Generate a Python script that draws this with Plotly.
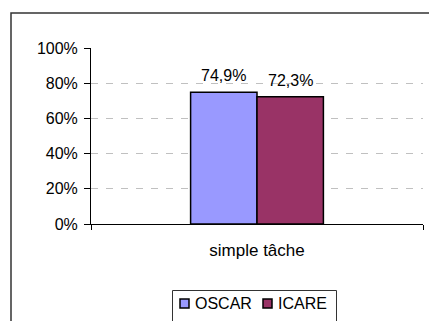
import plotly.graph_objects as go

# Data
categories = ["simple tâche"]
series_names = ["OSCAR", "ICARE"]
oscar_values = [0.749]
icare_values = [0.723]
series_colors = ["#9999FF", "#993366"]

W, H = 429, 321
ML, MR, MT, MB = 91, 6, 48, 97
PW, PH = W - ML - MR, H - MT - MB
BAR_GAP = 0.6

FONT = "Liberation Sans, Arial, sans-serif"


def px_x(x):
    return (x - ML) / PW


def px_y(y):
    return (H - MB - y) / PH


def fmt_pct(v):
    return f"{v * 100:.1f}%".replace(".", ",")


fig = go.Figure()
all_values = [oscar_values, icare_values]
n_series = len(series_names)
bar_px = PW / len(categories) * (1 - BAR_GAP) / n_series
annotations = []
for i, (name, vals, col) in enumerate(zip(series_names, all_values, series_colors)):
    fig.add_trace(go.Bar(
        x=categories, y=vals, name=name,
        marker=dict(color=col, line=dict(color="#000000", width=1.5)),
        showlegend=False,
    ))
    # value labels above each bar
    offset = (i - (n_series - 1) / 2) * bar_px
    for cat, v in zip(categories, vals):
        annotations.append(dict(
            x=cat, y=v, xref="x", yref="y", text=fmt_pct(v), showarrow=False,
            xanchor="center", yanchor="bottom", xshift=offset, yshift=6,
            font=dict(family=FONT, size=16, color="#000000"),
        ))

shapes = [
    # outer chart border (right and bottom edges fall outside the view)
    dict(type="rect", xref="paper", yref="paper",
         x0=px_x(11), x1=px_x(440), y0=px_y(13), y1=px_y(340),
         line=dict(color="#333333", width=1.5), layer="below"),
    # legend box
    dict(type="rect", xref="paper", yref="paper",
         x0=px_x(172.5), x1=px_x(336.5), y0=px_y(290.5), y1=px_y(340),
         line=dict(color="#333333", width=1), fillcolor="white"),
]
legend_items = [(180, 193), (263, 276)]
for (sx, tx), name, col in zip(legend_items, series_names, series_colors):
    shapes.append(dict(type="rect", xref="paper", yref="paper",
                       x0=px_x(sx), x1=px_x(sx + 9), y0=px_y(299), y1=px_y(308),
                       line=dict(color="#000000", width=1.5), fillcolor=col))
    annotations.append(dict(xref="paper", yref="paper", x=px_x(tx), y=px_y(303.5),
                            text=name, showarrow=False, xanchor="left", yanchor="middle",
                            font=dict(family=FONT, size=16, color="#000000")))

fig.update_layout(
    width=W, height=H,
    margin=dict(l=ML, r=MR, t=MT, b=MB, pad=0),
    paper_bgcolor="white", plot_bgcolor="white",
    barmode="group", bargap=BAR_GAP, bargroupgap=0,
    font=dict(family=FONT, size=16, color="#000000"),
    shapes=shapes, annotations=annotations,
    showlegend=False,
)
fig.update_xaxes(
    type="category", range=[-0.5, 0.5],
    showline=True, linecolor="#000000", linewidth=1,
    ticks="outside", tickson="boundaries", ticklen=5, tickcolor="#000000",
    ticklabelstandoff=11, showgrid=False,
    tickfont=dict(family=FONT, size=17),
)
fig.update_yaxes(
    range=[0, 1], dtick=0.2, tickformat=".0%",
    showline=True, linecolor="#000000", linewidth=1,
    ticks="outside", ticklen=6, tickcolor="#000000",
    showgrid=True, gridcolor="#c0c0c0", gridwidth=1, griddash="7px,8px",
    zeroline=False, ticklabelstandoff=3,
    tickfont=dict(family=FONT, size=16),
)

fig.write_html("out.html")
